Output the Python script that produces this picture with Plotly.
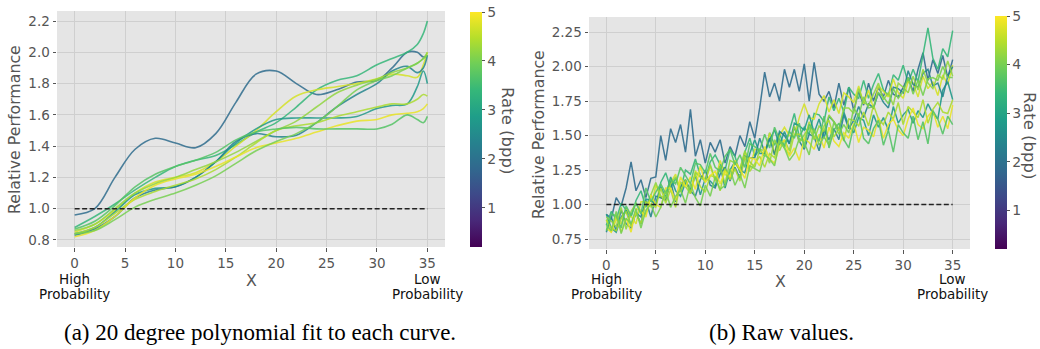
import numpy as np
import plotly.graph_objects as go
from plotly.colors import sample_colorscale

W, H = 1040, 349

# ---------------- data ----------------
rates = [1.9, 3.4, 4.7, 2.8, 2.4, 4.2, 4.4, 4.85, 3.7, 4.0]

smooth_x = [0, 2, 4, 6, 8, 10, 12, 14, 16, 18, 20, 22, 24, 26, 28, 30, 31.5, 33, 34, 34.6, 35]
fit_A = [0.96, 1.0, 1.2, 1.38, 1.45, 1.42, 1.39, 1.48, 1.68, 1.86, 1.88, 1.8, 1.73, 1.76, 1.81, 1.82, 1.9, 2.0, 2.0, 1.97, 1.98]
fit_B = [0.88, 0.95, 1.03, 1.12, 1.2, 1.27, 1.31, 1.34, 1.41, 1.49, 1.55, 1.65, 1.76, 1.82, 1.85, 1.92, 1.96, 2.0, 2.05, 2.12, 2.2]
fit_C = [0.85, 0.9, 0.99, 1.1, 1.17, 1.2, 1.23, 1.3, 1.4, 1.5, 1.62, 1.72, 1.76, 1.78, 1.8, 1.83, 1.86, 1.85, 1.84, 1.92, 2.0]
fit_D = [0.84, 0.88, 0.98, 1.09, 1.13, 1.14, 1.2, 1.3, 1.42, 1.51, 1.57, 1.58, 1.58, 1.58, 1.59, 1.64, 1.66, 1.67, 1.78, 1.88, 1.8]
fit_E = [0.83, 0.87, 0.95, 1.07, 1.12, 1.14, 1.2, 1.3, 1.43, 1.48, 1.46, 1.47, 1.55, 1.65, 1.73, 1.8, 1.88, 1.91, 1.87, 1.9, 1.98]
fit_F = [0.86, 0.9, 1.0, 1.1, 1.16, 1.2, 1.25, 1.3, 1.36, 1.43, 1.5, 1.56, 1.65, 1.74, 1.79, 1.83, 1.87, 1.9, 1.93, 1.96, 2.0]
fit_G = [0.84, 0.88, 0.97, 1.06, 1.11, 1.15, 1.19, 1.25, 1.33, 1.42, 1.5, 1.53, 1.55, 1.59, 1.62, 1.65, 1.67, 1.67, 1.7, 1.73, 1.72]
fit_H = [0.82, 0.86, 0.95, 1.07, 1.15, 1.19, 1.22, 1.27, 1.33, 1.39, 1.42, 1.45, 1.49, 1.53, 1.56, 1.57, 1.6, 1.61, 1.62, 1.64, 1.67]
fit_I = [0.87, 0.92, 1.02, 1.14, 1.22, 1.27, 1.31, 1.36, 1.44, 1.49, 1.51, 1.52, 1.51, 1.51, 1.51, 1.51, 1.54, 1.6, 1.57, 1.55, 1.59]
fit_J = [0.84, 0.86, 0.93, 1.01, 1.06, 1.1, 1.15, 1.21, 1.29, 1.37, 1.43, 1.48, 1.55, 1.65, 1.76, 1.82, 1.85, 1.9, 1.93, 1.96, 1.98]
fits = [fit_A, fit_B, fit_C, fit_D, fit_E, fit_F, fit_G, fit_H, fit_I, fit_J]

raw_A = [0.93, 0.9, 1.05, 0.99, 1.12, 1.31, 1.1, 1.18, 1.05, 1.19, 1.2, 1.5, 1.32, 1.55, 1.45, 1.58, 1.38, 1.69, 1.35, 1.47,
         1.3, 1.45, 1.38, 1.47, 1.3, 1.42, 1.35, 1.5, 1.42, 1.6, 1.48, 1.7, 1.96, 1.78, 1.88, 1.75, 1.98, 1.85, 1.98, 1.82,
         2.02, 1.75, 2.03, 1.8, 1.75, 1.82, 1.7, 1.88, 1.72, 1.85, 1.68, 1.82, 1.72, 1.88, 1.75, 1.85, 1.78, 1.9, 1.8, 1.78,
         1.85, 1.92, 1.82, 1.98, 2.1, 1.9, 2.05, 1.95, 2.08, 1.92, 2.05]
raw_B = [0.85, 0.95, 0.89, 1.01, 0.96, 0.91, 1.03, 1.1, 0.98, 1.07, 0.99, 1.16, 1.23, 1.12, 1.19, 1.11, 1.25, 1.22, 1.33, 1.21,
         1.18, 1.31, 1.36, 1.29, 1.25, 1.4, 1.35, 1.23, 1.38, 1.48, 1.35, 1.4, 1.35, 1.52, 1.43, 1.52, 1.41, 1.53, 1.66, 1.49,
         1.56, 1.51, 1.66, 1.65, 1.6, 1.78, 1.68, 1.77, 1.67, 1.85, 1.8, 1.77, 1.9, 1.77, 1.87, 1.95, 1.83, 1.79, 1.94, 1.9,
         2.01, 1.88, 1.98, 1.89, 2.09, 2.28, 2.06, 1.98, 2.13, 2.07, 2.26]
raw_C = [0.89, 0.8, 0.89, 0.86, 0.97, 0.91, 0.86, 1.02, 1.02, 0.98, 1.14, 1.05, 1.04, 1.16, 1.22, 1.1, 1.18, 1.09, 1.24, 1.21,
         1.17, 1.28, 1.17, 1.32, 1.22, 1.19, 1.3, 1.26, 1.38, 1.26, 1.4, 1.39, 1.36, 1.52, 1.37, 1.5, 1.56, 1.5, 1.49, 1.63,
         1.73, 1.63, 1.62, 1.73, 1.79, 1.67, 1.76, 1.66, 1.81, 1.78, 1.74, 1.86, 1.73, 1.83, 1.69, 1.86, 1.82, 1.78, 1.91, 1.81,
         1.77, 1.89, 1.88, 1.78, 1.93, 1.84, 1.89, 1.79, 1.94, 1.87, 2.01]
raw_D = [0.93, 0.83, 0.8, 0.91, 0.96, 0.85, 0.94, 0.86, 1.04, 1.03, 1.0, 1.13, 1.05, 1.2, 1.1, 1.06, 1.16, 1.11, 1.21, 1.07,
         1.19, 1.17, 1.13, 1.28, 1.12, 1.25, 1.31, 1.25, 1.23, 1.37, 1.47, 1.37, 1.37, 1.47, 1.54, 1.43, 1.53, 1.44, 1.59, 1.57,
         1.54, 1.65, 1.52, 1.62, 1.48, 1.64, 1.6, 1.54, 1.67, 1.57, 1.52, 1.63, 1.61, 1.5, 1.65, 1.56, 1.63, 1.54, 1.71, 1.59,
         1.65, 1.69, 1.59, 1.68, 1.63, 1.73, 1.66, 1.62, 1.83, 1.89, 1.76]
raw_E = [0.8, 0.91, 0.81, 0.96, 0.86, 0.83, 0.94, 0.91, 1.03, 0.91, 1.06, 1.05, 1.03, 1.17, 1.02, 1.13, 1.18, 1.1, 1.06, 1.18,
         1.25, 1.14, 1.12, 1.22, 1.27, 1.17, 1.27, 1.19, 1.35, 1.34, 1.34, 1.48, 1.38, 1.48, 1.36, 1.53, 1.5, 1.44, 1.56, 1.46,
         1.4, 1.51, 1.49, 1.39, 1.54, 1.47, 1.55, 1.47, 1.65, 1.55, 1.61, 1.71, 1.63, 1.73, 1.7, 1.81, 1.74, 1.7, 1.85, 1.84,
         1.81, 1.97, 1.87, 1.85, 1.95, 1.98, 1.86, 1.88, 1.78, 1.93, 2.0]
raw_F = [0.91, 0.88, 0.84, 0.98, 0.82, 0.95, 1.01, 0.95, 0.93, 1.07, 1.16, 1.06, 1.05, 1.15, 1.2, 1.09, 1.18, 1.08, 1.23, 1.2,
         1.17, 1.29, 1.18, 1.28, 1.15, 1.32, 1.3, 1.25, 1.39, 1.31, 1.27, 1.4, 1.39, 1.3, 1.47, 1.39, 1.47, 1.39, 1.57, 1.45,
         1.51, 1.56, 1.47, 1.57, 1.53, 1.65, 1.6, 1.55, 1.7, 1.7, 1.66, 1.84, 1.74, 1.72, 1.8, 1.88, 1.76, 1.81, 1.72, 1.88,
         1.85, 1.81, 1.93, 1.83, 1.98, 1.88, 1.84, 1.94, 1.91, 2.04, 1.93]
raw_G = [0.89, 0.83, 0.81, 0.9, 0.95, 0.84, 0.94, 0.86, 1.02, 1.0, 0.98, 1.12, 1.01, 1.11, 0.98, 1.16, 1.13, 1.08, 1.22, 1.13,
         1.09, 1.21, 1.2, 1.1, 1.26, 1.18, 1.26, 1.17, 1.35, 1.24, 1.3, 1.35, 1.27, 1.37, 1.34, 1.47, 1.41, 1.36, 1.51, 1.51,
         1.46, 1.6, 1.49, 1.46, 1.57, 1.61, 1.49, 1.55, 1.46, 1.62, 1.61, 1.57, 1.67, 1.57, 1.72, 1.62, 1.58, 1.67, 1.62, 1.74,
         1.58, 1.71, 1.67, 1.63, 1.76, 1.59, 1.69, 1.74, 1.67, 1.66, 1.76]
raw_H = [0.83, 0.8, 0.92, 0.8, 0.9, 0.8, 0.97, 0.95, 0.91, 1.07, 1.0, 0.98, 1.12, 1.12, 1.03, 1.2, 1.13, 1.2, 1.11, 1.28,
         1.16, 1.21, 1.24, 1.15, 1.24, 1.2, 1.32, 1.25, 1.19, 1.34, 1.33, 1.28, 1.42, 1.33, 1.3, 1.42, 1.47, 1.35, 1.41, 1.32,
         1.48, 1.45, 1.4, 1.51, 1.41, 1.56, 1.46, 1.42, 1.52, 1.48, 1.59, 1.45, 1.56, 1.54, 1.49, 1.63, 1.48, 1.58, 1.62, 1.54,
         1.5, 1.62, 1.7, 1.58, 1.55, 1.64, 1.68, 1.56, 1.64, 1.55, 1.72]
raw_I = [0.81, 0.93, 0.92, 0.83, 0.99, 0.92, 1.01, 0.93, 1.12, 1.02, 1.09, 1.15, 1.08, 1.18, 1.15, 1.27, 1.21, 1.15, 1.3, 1.29,
         1.23, 1.37, 1.27, 1.24, 1.35, 1.4, 1.29, 1.36, 1.27, 1.44, 1.42, 1.39, 1.51, 1.41, 1.56, 1.47, 1.43, 1.53, 1.48, 1.59,
         1.41, 1.58, 1.53, 1.46, 1.64, 1.41, 1.54, 1.59, 1.47, 1.41, 1.57, 1.66, 1.48, 1.44, 1.55, 1.61, 1.43, 1.54, 1.38, 1.58,
         1.52, 1.48, 1.64, 1.47, 1.6, 1.44, 1.68, 1.62, 1.51, 1.64, 1.58]
raw_J = [0.85, 0.81, 0.95, 0.79, 0.9, 0.86, 0.97, 0.83, 0.96, 1.0, 0.91, 0.98, 1.1, 0.98, 1.06, 1.11, 1.01, 1.15, 1.05, 0.99,
         1.14, 1.06, 1.2, 1.11, 1.14, 1.26, 1.14, 1.22, 1.12, 1.28, 1.26, 1.24, 1.36, 1.33, 1.28, 1.46, 1.41, 1.32, 1.37, 1.48,
         1.45, 1.36, 1.55, 1.43, 1.49, 1.43, 1.6, 1.51, 1.58, 1.52, 1.7, 1.64, 1.78, 1.7, 1.71, 1.81, 1.78, 1.73, 1.84, 1.77,
         1.82, 1.92, 1.8, 1.9, 1.79, 1.91, 1.92, 1.9, 2.0, 1.92, 1.92]
raws = [raw_A, raw_B, raw_C, raw_D, raw_E, raw_F, raw_G, raw_H, raw_I, raw_J]

x_ticks = [0, 5, 10, 15, 20, 25, 30, 35]
ya_ticks = [0.8, 1.0, 1.2, 1.4, 1.6, 1.8, 2.0, 2.2]
yb_ticks = [0.75, 1.0, 1.25, 1.5, 1.75, 2.0, 2.25]
cb_ticks = [1, 2, 3, 4, 5]
rate_min, rate_max = 0.2, 5.0

# ---------------- helpers ----------------
def px(x):
    return x / W

def py(y):
    return 1 - y / H

def color_for(r):
    return sample_colorscale("Viridis", [(r - rate_min) / (rate_max - rate_min)])[0]

FONT = "DejaVu Sans"
GRAY = "#555555"

fig = go.Figure()

# panel (a): fitted curves
for r, vals in zip(rates, fits):
    fig.add_trace(go.Scatter(x=smooth_x, y=vals, mode="lines", xaxis="x", yaxis="y",
                             line=dict(color=color_for(r), width=1.6, shape="spline", smoothing=1.0),
                             opacity=0.85, showlegend=False, hoverinfo="skip"))
fig.add_trace(go.Scatter(x=[0, 35], y=[1, 1], mode="lines", xaxis="x", yaxis="y",
                         line=dict(color="#222222", width=1.5, dash="5px,2.5px"),
                         showlegend=False, hoverinfo="skip"))

# panel (b): raw curves
for r, vals in zip(rates, raws):
    xs = np.linspace(0, 35, len(vals))
    fig.add_trace(go.Scatter(x=xs, y=vals, mode="lines", xaxis="x2", yaxis="y2",
                             line=dict(color=color_for(r), width=1.5),
                             opacity=0.9, showlegend=False, hoverinfo="skip"))
fig.add_trace(go.Scatter(x=[0, 35], y=[1, 1], mode="lines", xaxis="x2", yaxis="y2",
                         line=dict(color="#222222", width=1.5, dash="5px,2.5px"),
                         showlegend=False, hoverinfo="skip"))

# colorbars (invisible carriers)
def cbar(xpos, ytop, ybot):
    return dict(x=px(xpos), xanchor="left", y=py(ytop), yanchor="top",
                len=(ybot - ytop) / H, lenmode="fraction", thickness=12, thicknessmode="pixels",
                outlinewidth=0, tickvals=cb_ticks, ticks="outside", ticklen=3, tickcolor=GRAY,
                tickfont=dict(family=FONT, size=14, color=GRAY), xpad=0, ypad=0)

fig.add_trace(go.Scatter(x=[0], y=[1], mode="markers", xaxis="x", yaxis="y",
                         marker=dict(size=1, opacity=0, color=[rate_min], colorscale="Viridis",
                                     cmin=rate_min, cmax=rate_max, showscale=True,
                                     colorbar=cbar(470, 12, 247)),
                         showlegend=False, hoverinfo="skip"))
fig.add_trace(go.Scatter(x=[0], y=[1], mode="markers", xaxis="x2", yaxis="y2",
                         marker=dict(size=1, opacity=0, color=[rate_min], colorscale="Viridis",
                                     cmin=rate_min, cmax=rate_max, showscale=True,
                                     colorbar=cbar(995, 16, 249)),
                         showlegend=False, hoverinfo="skip"))

axis_common = dict(showgrid=True, gridcolor="#cfcfcf", gridwidth=1, zeroline=False,
                   ticks="outside", ticklen=3.5, tickcolor=GRAY, showline=False,
                   tickfont=dict(family=FONT, size=13.5, color=GRAY))

fig.update_layout(
    width=W, height=H, margin=dict(l=0, r=0, t=0, b=0),
    paper_bgcolor="white", plot_bgcolor="#E5E5E5",
    xaxis=dict(domain=[px(57), px(445)], range=[-1.75, 36.75], tickvals=x_ticks, anchor="y", **axis_common),
    yaxis=dict(domain=[py(247), py(11)], range=[0.755, 2.264], tickvals=ya_ticks, tickformat=".1f",
               anchor="x", **axis_common),
    xaxis2=dict(domain=[px(589), px(970)], range=[-1.75, 36.75], tickvals=x_ticks, anchor="y2", **axis_common),
    yaxis2=dict(domain=[py(249), py(17)], range=[0.678, 2.359], tickvals=yb_ticks, tickformat=".2f",
                anchor="x2", **axis_common),
)

ann = []
def add_text(x, y, text, size, color, textangle=0, family=FONT, xref="paper"):
    ann.append(dict(x=x, y=y, xref=xref, yref="paper", text=text, showarrow=False,
                    font=dict(family=family, size=size, color=color), textangle=textangle,
                    xanchor="center", yanchor="middle"))

TITLE = 15.8
LBL = 13.5
CAP = 23

# panel a texts
add_text(px(15), py(130), "Relative Performance", TITLE, GRAY, -90)
add_text(px(251), py(280), "X", TITLE, GRAY)
add_text(px(507), py(130), "Rate (bpp)", 16.5, GRAY, 90)
add_text(0, py(279), "High", LBL, "#111111", xref="x")
add_text(0, py(294), "Probability", LBL, "#111111", xref="x")
add_text(35, py(279), "Low", LBL, "#111111", xref="x")
add_text(35, py(294), "Probability", LBL, "#111111", xref="x")
add_text(px(260), py(332), "(a) 20 degree polynomial fit to each curve.", CAP, "black", family="Liberation Serif")

# panel b texts
add_text(px(538), py(135), "Relative Performance", TITLE, GRAY, -90)
add_text(px(780), py(281), "X", TITLE, GRAY)
add_text(px(1030), py(135), "Rate (bpp)", 16.5, GRAY, 90)
add_text(0, py(279), "High", LBL, "#111111", xref="x2")
add_text(0, py(294), "Probability", LBL, "#111111", xref="x2")
add_text(35, py(279), "Low", LBL, "#111111", xref="x2")
add_text(35, py(294), "Probability", LBL, "#111111", xref="x2")
add_text(px(781), py(332), "(b) Raw values.", CAP, "black", family="Liberation Serif")

fig.update_layout(annotations=ann)
fig.write_html("out.html")
